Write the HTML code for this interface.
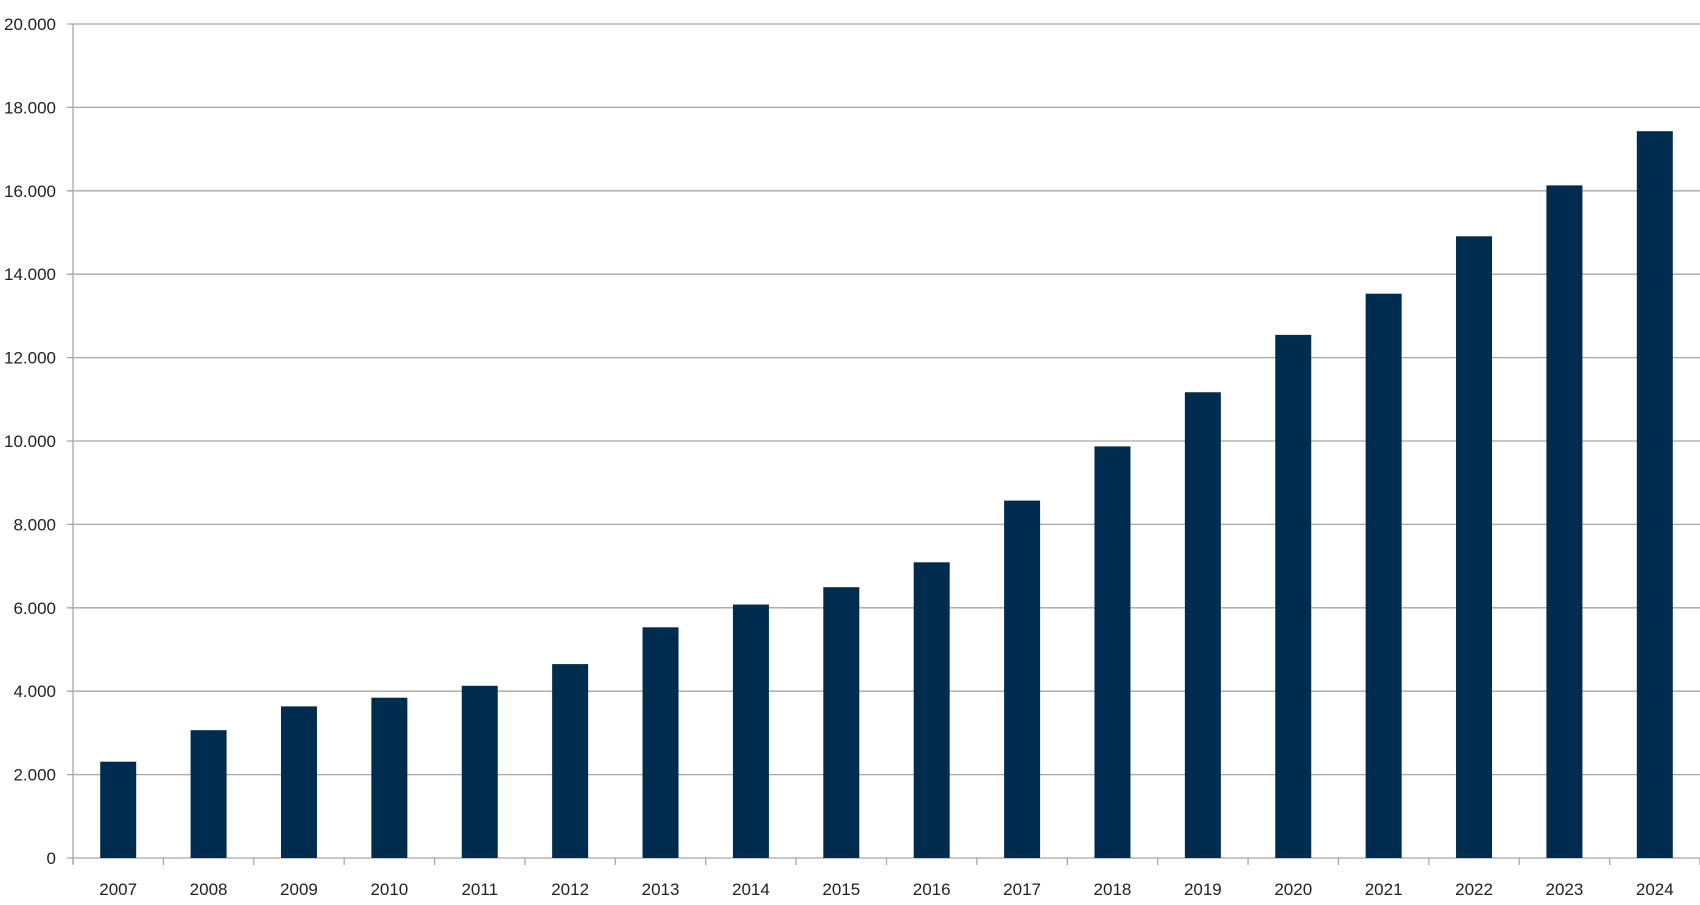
<!DOCTYPE html>
<html><head><meta charset="utf-8"><style>
html,body{margin:0;padding:0;background:#fff;}
svg{display:block;font-family:"Liberation Sans",sans-serif;}
</style></head><body>
<svg id="chart" width="1700" height="905" xmlns="http://www.w3.org/2000/svg"></svg>
<script>
const categories=["2007","2008","2009","2010","2011","2012","2013","2014","2015","2016","2017","2018","2019","2020","2021","2022","2023","2024"];
const values=[2310,3065,3636,3844,4130,4650,5532,6078,6494,7091,8571,9870,11169,12545,13532,14909,16130,17429];
const yTicks=[0,2000,4000,6000,8000,10000,12000,14000,16000,18000,20000];
const yTickLabels=["0","2.000","4.000","6.000","8.000","10.000","12.000","14.000","16.000","18.000","20.000"];
const NS="http://www.w3.org/2000/svg";
const svg=document.getElementById('chart');
const X0=73,X1=1700,Y0=858,Y1=24,YMAX=20000;
const bw=(X1-X0)/categories.length;
const y=v=>Y0-(v/YMAX)*(Y0-Y1);
const x=i=>X0+i*bw;
function mk(t,a){const e=document.createElementNS(NS,t);for(const k in a)e.setAttribute(k,a[k]);svg.appendChild(e);return e;}
yTicks.forEach((t,i)=>{
  const g=mk('line',{x1:X0-6,x2:X1,y1:y(t),y2:y(t),stroke:'#a6a6a6','stroke-width':1.3});
  
  
  const l=mk('text',{x:56,y:y(t)+6,'text-anchor':'end','font-size':17,fill:'#222'});
  l.textContent=yTickLabels[i];
  
  
});
const ax=mk('line',{x1:X0,x2:X0,y1:Y1,y2:Y0+6,stroke:'#a6a6a6','stroke-width':1.3});


for(let i=0;i<=categories.length;i++){
  const t=mk('line',{x1:x(i),x2:x(i),y1:Y0,y2:Y0+7,stroke:'#a6a6a6','stroke-width':1.3});
  
  
}
categories.forEach((c,i)=>{
  const cx=x(i)+bw/2, w=36;
  const r=mk('rect',{x:cx-w/2,y:y(values[i]),width:w,height:Y0-y(values[i]),fill:'#002d4f'});
  
  
  const l=mk('text',{x:cx,y:895,'text-anchor':'middle','font-size':17,fill:'#222'});
  l.textContent=c;
  
  
});
</script>
</body></html>
